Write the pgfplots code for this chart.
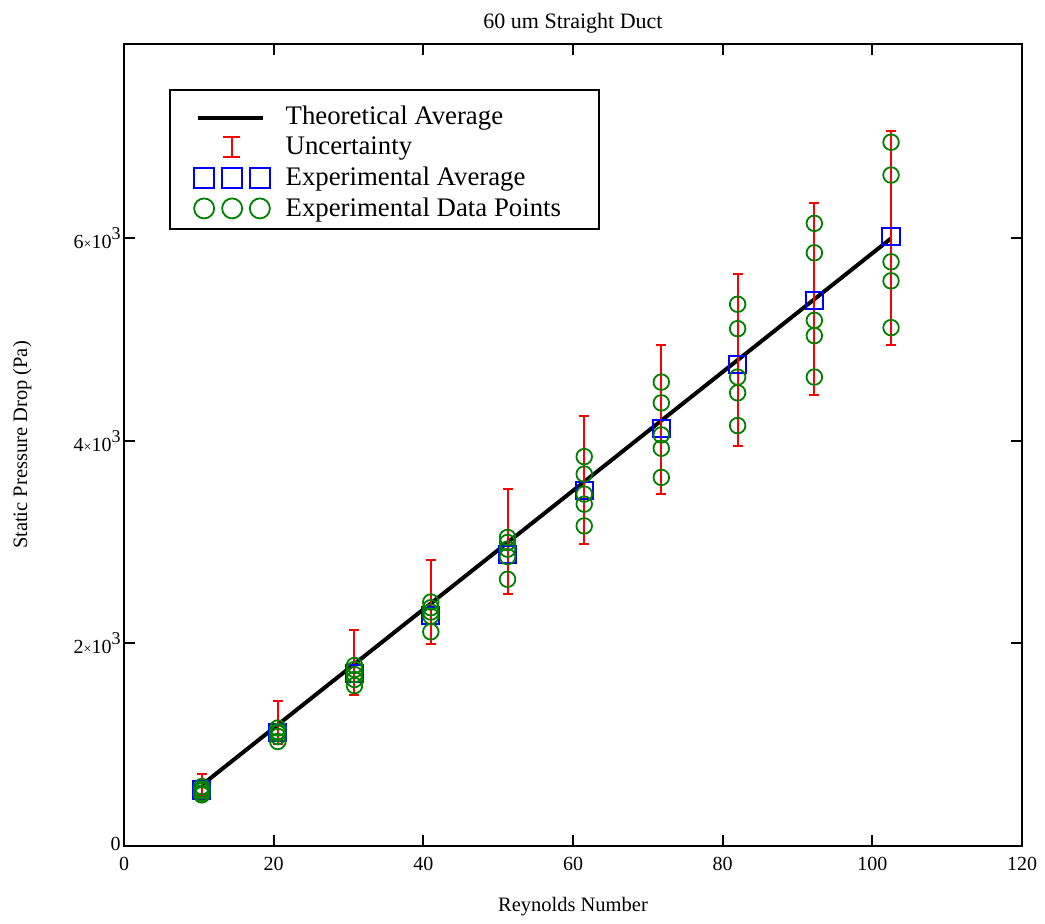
\documentclass[border=0pt]{standalone}
\usepackage{fontspec}
\setmainfont{Liberation Serif}
\usepackage{pgfplots}
\usepackage{pgfplotstable}
\pgfplotsset{compat=1.18}
\definecolor{mcred}{RGB}{255,0,0}
\definecolor{mcblue}{RGB}{0,0,255}
\definecolor{mcgreen}{RGB}{0,128,0}
\newcommand{\tl}[1]{#1{\fontsize{7bp}{7bp}\selectfont×}10\raisebox{4.5bp}{\fontsize{9bp}{9bp}\selectfont 3}}

\pgfplotstableread{
x y
10.4 602
102.5 6000
}\theory

\pgfplotstableread{
x y ep em
10.4 554 154 49
20.55 1122 306 117
30.8 1700 429 205
41.0 2280 544 290
51.25 2881 644 396
61.5 3508 736 528
71.8 4126 818 651
82.0 4756 890 802
92.25 5386 961 937
102.5 6017 1043 1074
}\avg

\pgfplotstableread{
x y
10.4 587
10.4 561
10.4 545
10.4 521
10.4 505
20.55 1165
20.55 1131
20.55 1114
20.55 1082
20.55 1032
30.8 1782
30.8 1743
30.8 1693
30.8 1644
30.8 1584
41.0 2409
41.0 2353
41.0 2310
41.0 2270
41.0 2115
51.25 3047
51.25 2997
51.25 2931
51.25 2858
51.25 2634
61.5 3845
61.5 3673
61.5 3475
61.5 3376
61.5 3161
71.8 4581
71.8 4376
71.8 4059
71.8 3928
71.8 3640
82.0 5350
82.0 5109
82.0 4631
82.0 4475
82.0 4152
92.25 6149
92.25 5858
92.25 5191
92.25 5040
92.25 4631
102.5 6950
102.5 6626
102.5 5769
102.5 5581
102.5 5119
}\pts

\begin{document}
\begin{tikzpicture}
\begin{axis}[
  name=ax, at={(0,0)}, anchor=south west,
  scale only axis, width=449bp, height=401bp,
  xmin=0, xmax=120, ymin=0, ymax=7920,
  xtick={0,20,...,120}, ytick={0,2000,4000,6000},
  yticklabels={\raisebox{2bp}{0},\tl{2},\tl{4},\tl{6}},
  scaled y ticks=false,
  tick align=inside, xtick pos=both, ytick pos=both,
  major tick length=5.5bp,
  every tick/.style={black, line width=1bp},
  axis line style={line width=1bp},
  /pgf/number format/assume math mode=true,
  ticklabel style={font=\fontsize{10bp}{12bp}\selectfont},
  xticklabel style={anchor=north, inner sep=0pt, yshift=-5.5bp},
  yticklabel style={anchor=east, inner sep=0pt, xshift=-1.5bp},
  title={60 um Straight Duct},
  every axis title shift=0pt,
  title style={at={(axis description cs:0.5,1.0197)}, anchor=base, yshift=0pt, inner sep=0pt, font=\fontsize{11bp}{13bp}\selectfont},
  xlabel={Reynolds Number},
  xlabel style={at={(axis description cs:0.5,-0.0815)}, anchor=base, inner sep=0pt, font=\fontsize{10.25bp}{12bp}\selectfont},
  ylabel={Static Pressure Drop (Pa)},
  ylabel style={at={(axis description cs:-0.108,0.5)}, anchor=base, inner sep=0pt, font=\fontsize{10.25bp}{12bp}\selectfont},
  legend cell align=left,
  legend style={at={(axis description cs:0.0504,0.9435)}, anchor=north west,
    draw=black, line width=1bp, fill=white,
    inner xsep=11.5bp, inner ysep=5bp, row sep=2.0bp, column sep=7.45bp,
    font=\fontsize{13.4bp}{15bp}\selectfont,
    nodes={inner sep=0pt, text height=12bp, text depth=1.15bp, anchor=base west}},
]
\addplot[black, line width=2bp, legend image code/.code={
  \draw[black, line width=2bp] (2.35bp,3.3bp) -- (34.7bp,3.3bp);
  \path[draw=none] (0,0) -- (38.5bp,0);}]
  table[x=x,y=y] {\theory};
\addlegendentry{\makebox[145bp][l]{Theoretical Average}}

\addplot[draw=none, mark=none,
  legend image code/.code={
  \draw[mcred, line width=1bp] (19.2bp,-0.95bp) -- (19.2bp,8.75bp)
    (15bp,-0.95bp) -- (23.4bp,-0.95bp) (15bp,8.75bp) -- (23.4bp,8.75bp);
  \path[draw=none] (0,0) -- (38.5bp,0);},
  error bars/.cd, y dir=both, y explicit,
  error bar style={draw=mcred, line width=1bp},
  error mark options={draw=mcred, line width=1bp, mark size=2.5bp, rotate=90}]
  table[x=x,y=y,y error plus=ep,y error minus=em] {\avg};
\addlegendentry{\makebox[145bp][l]{Uncertainty}}

\addplot[only marks, mark=square, mark size=4.3bp, mark options={mcblue, line width=1bp, fill=none},
  legend image code/.code={
  \foreach \cx in {5.35,19.35,33.2}{
    \draw[mcblue, line width=0.9bp] (\cx bp-5bp,-1.15bp) rectangle (\cx bp+5bp,8.85bp);}
  \path[draw=none] (0,0) -- (38.5bp,0);}]
  table[x=x,y=y] {\avg};
\addlegendentry{\makebox[145bp][l]{Experimental Average}}

\addplot[only marks, mark=o, mark size=3.9bp, mark options={mcgreen, line width=0.9bp},
  legend image code/.code={
  \foreach \cx in {5.35,19.35,33.2}{
    \draw[mcgreen, line width=0.9bp] (\cx bp,4.15bp) circle[radius=5bp];}
  \path[draw=none] (0,0) -- (38.5bp,0);}]
  table[x=x,y=y] {\pts};
\addlegendentry{\makebox[145bp][l]{Experimental Data Points}}
\end{axis}
\pgfresetboundingbox
\path[use as bounding box] (-62bp,-39bp) rectangle (460.5bp,423bp);
\end{tikzpicture}
\end{document}
